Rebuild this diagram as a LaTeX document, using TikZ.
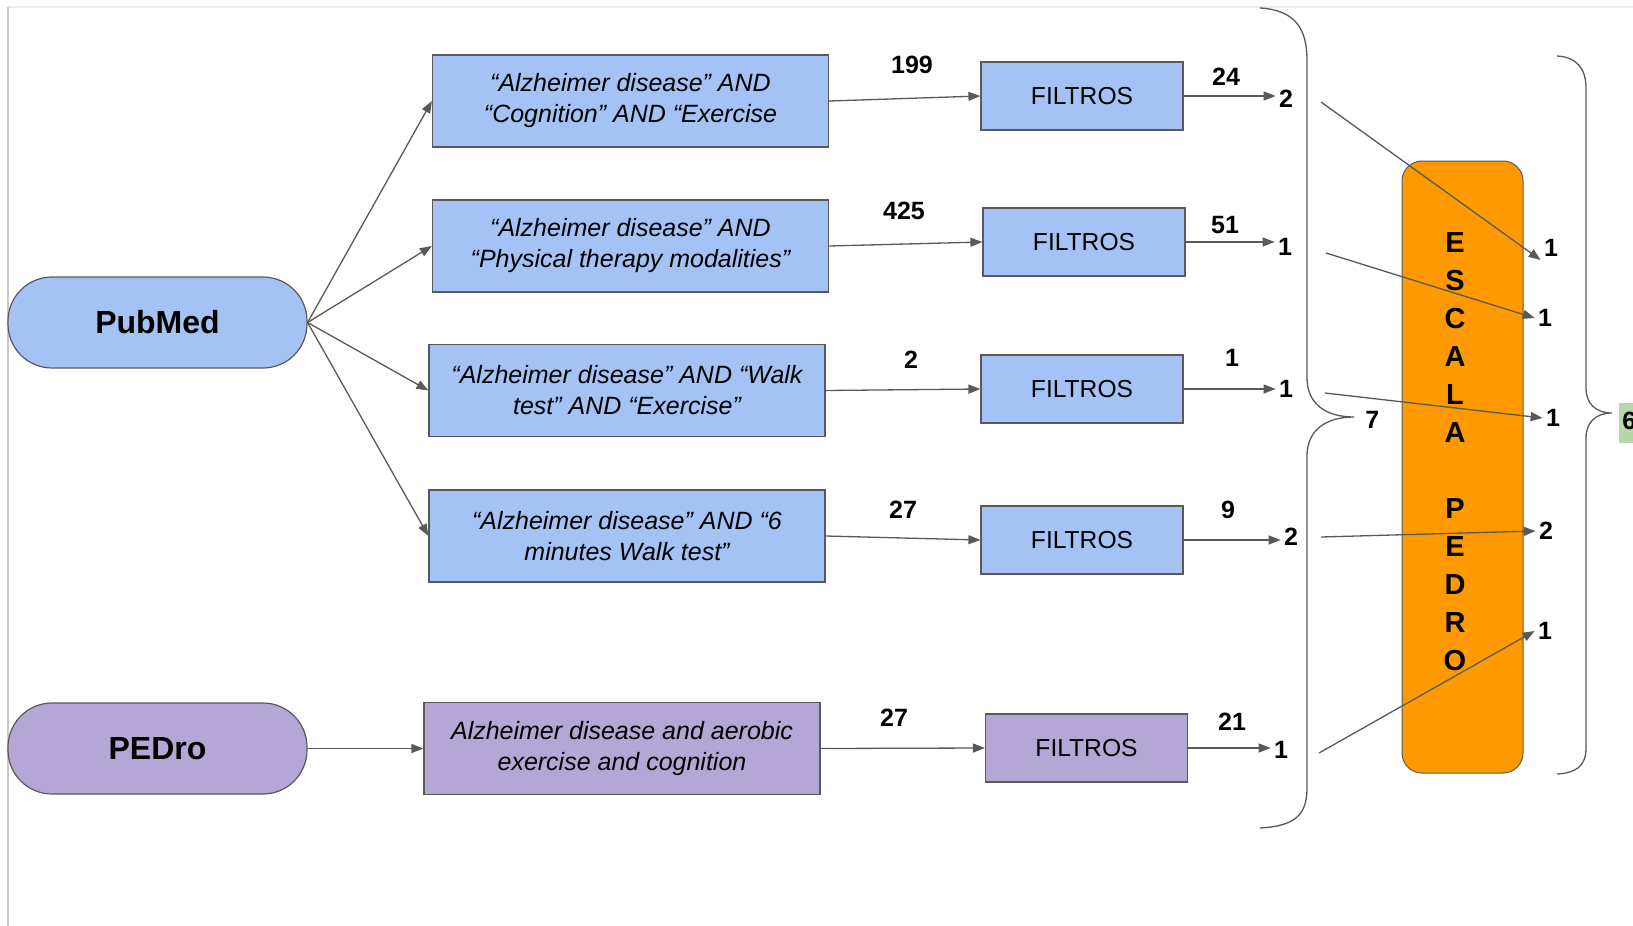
\documentclass[tikz,border=0pt]{standalone}
\usepackage{fontspec}
\setmainfont{Liberation Sans}
\usetikzlibrary{arrows.meta}
\definecolor{qblue}{HTML}{A4C2F4}
\definecolor{qpurple}{HTML}{B4A7D6}
\definecolor{qorange}{HTML}{FF9900}
\definecolor{qline}{HTML}{595959}
\definecolor{qgreen}{HTML}{B6D7A8}
\definecolor{qframe}{HTML}{C8C8C8}
\definecolor{qtop}{HTML}{E6ECE8}
\begin{document}
\begin{tikzpicture}[x=0.5pt,y=-0.5pt,
 box/.style={draw=qline, line width=0.6pt, align=center, inner sep=0pt},
 query/.style={box, minimum width=198pt, minimum height=46pt, font=\fontsize{12.5}{15.5}\selectfont\itshape},
 filt/.style={box, minimum width=101pt, minimum height=34pt, font=\fontsize{12.3}{14}\selectfont},
 src/.style={box, rounded corners=22pt, minimum width=149.5pt, minimum height=45.5pt, font=\fontsize{16}{19}\selectfont\bfseries},
 num/.style={inner sep=1.5pt, font=\fontsize{12.5}{15}\selectfont\bfseries},
 arr/.style={draw=qline, line width=0.65pt, -{Triangle[length=6pt,width=4.5pt]}},
 brace/.style={draw=qline, line width=0.65pt},
]
\useasboundingbox (0,0) rectangle (1633,926);
% page frame lines
\draw[qtop, line width=1pt] (8,7) -- (1633,7);
\draw[qframe, line width=1pt] (8,7) -- (8,926);

% sources
\node[src, fill=qblue] (pub) at (157.5,322.5) {PubMed};
\node[src, fill=qpurple] (ped) at (157.5,748.5) {PEDro};

% queries
\node[query, fill=qblue] (q1) at (630.5,101) {“Alzheimer disease” AND\\“Cognition” AND “Exercise};
\node[query, fill=qblue] (q2) at (630.5,246) {“Alzheimer disease” AND\\“Physical therapy modalities”};
\node[query, fill=qblue] (q3) at (627,390.5) {“Alzheimer disease” AND “Walk\\test” AND “Exercise”};
\node[query, fill=qblue] (q4) at (627,536) {“Alzheimer disease” AND “6\\minutes Walk test”};
\node[query, fill=qpurple] (q5) at (622,748.5) {Alzheimer disease and aerobic\\exercise and cognition};

% filters
\node[filt, fill=qblue] (f1) at (1082,96) {FILTROS};
\node[filt, fill=qblue] (f2) at (1084,242) {FILTROS};
\node[filt, fill=qblue] (f3) at (1082,389) {FILTROS};
\node[filt, fill=qblue] (f4) at (1082,540) {FILTROS};
\node[filt, fill=qpurple] (f5) at (1086.5,748) {FILTROS};

% counts before filters
\node[num] (n1) at (912,65) {199};
\node[num] (n2) at (904,211) {425};
\node[num] (n3) at (911,360) {2};
\node[num] (n4) at (903,510) {27};
\node[num] (n5) at (894,718) {27};
% counts after filters
\node[num] (m1) at (1226,77) {24};
\node[num] (m2) at (1225,225) {51};
\node[num] (m3) at (1232,358) {1};
\node[num] (m4) at (1228,510) {9};
\node[num] (m5) at (1232,722) {21};
% selected
\node[num] (e1) at (1286,99) {2};
\node[num] (e2) at (1285,247) {1};
\node[num] (e3) at (1286,389) {1};
\node[num] (e4) at (1291,537) {2};
\node[num] (e5) at (1281,750) {1};

% arrows source -> queries
\draw[arr] (pub.east) -- (q1.west);
\draw[arr] (pub.east) -- (q2.west);
\draw[arr] (pub.east) -- (q3.west);
\draw[arr] (pub.east) -- (q4.west);
\draw[arr] (ped.east) -- (q5.west);
% queries -> filters
\draw[arr] (q1.east) -- (f1.west);
\draw[arr] (q2.east) -- (f2.west);
\draw[arr] (q3.east) -- (f3.west);
\draw[arr] (q4.east) -- (f4.west);
\draw[arr] (q5.east) -- (f5.west);
% filters -> selected
\draw[arr] (f1.east) -- (f1.east -| e1.west);
\draw[arr] (f2.east) -- (f2.east -| e2.west);
\draw[arr] (f3.east) -- (f3.east -| e3.west);
\draw[arr] (f4.east) -- (f4.east -| e4.west);
\draw[arr] (f5.east) -- (f5.east -| e5.west);

% left brace
\draw[brace] (1260,8) .. controls (1296,10) and (1307,30) .. (1307,60)
  -- (1307,378) .. controls (1307,404) and (1326,417) .. (1354,417)
  .. controls (1326,417) and (1307,430) .. (1307,456)
  -- (1307,788) .. controls (1307,814) and (1296,826) .. (1260,828);
\node[num, anchor=west] (seven) at (1362,420) {7};

% orange scale box
\node[draw=qline, line width=0.5pt, fill=qorange, rounded corners=10pt,
  minimum width=60.5pt, minimum height=306pt, inner sep=0pt] (esc) at (1462.5,467) {};
\node[font=\fontsize{14.5}{19}\selectfont\bfseries, align=center, inner sep=0pt] (lbl) at (1455,452)
  {E\\S\\C\\A\\L\\A\\[19pt]P\\E\\D\\R\\O};

% right numbers
\node[num] (r1) at (1551,248) {1};
\node[num] (r2) at (1545,318) {1};
\node[num] (r3) at (1553,418) {1};
\node[num] (r4) at (1546,531) {2};
\node[num] (r5) at (1545,631) {1};

\coordinate (s1) at (1321,102);
\coordinate (s2) at (1326,253);
\coordinate (s3) at (1325,393);
\coordinate (s4) at (1321,537);
\coordinate (s5) at (1319,753);
\draw[arr] (s1) -- (r1.south west);
\draw[arr] (s2) -- (r2.west);
\draw[arr] (s3) -- (r3.west);
\draw[arr] (s4) -- (r4.west);
\draw[arr] (s5) -- (r5.west);

% right brace
\draw[brace] (1557,56) .. controls (1576,57) and (1586,68) .. (1586,88)
  -- (1586,388) .. controls (1586,404) and (1596,413) .. (1612,413)
  .. controls (1596,413) and (1586,422) .. (1586,438)
  -- (1586,748) .. controls (1586,766) and (1576,773) .. (1557,774);
\fill[qgreen] (1619,403) rectangle (1645,443);
\node[num, anchor=west, inner sep=1pt] (six) at (1620,421) {6};
\end{tikzpicture}
\end{document}
